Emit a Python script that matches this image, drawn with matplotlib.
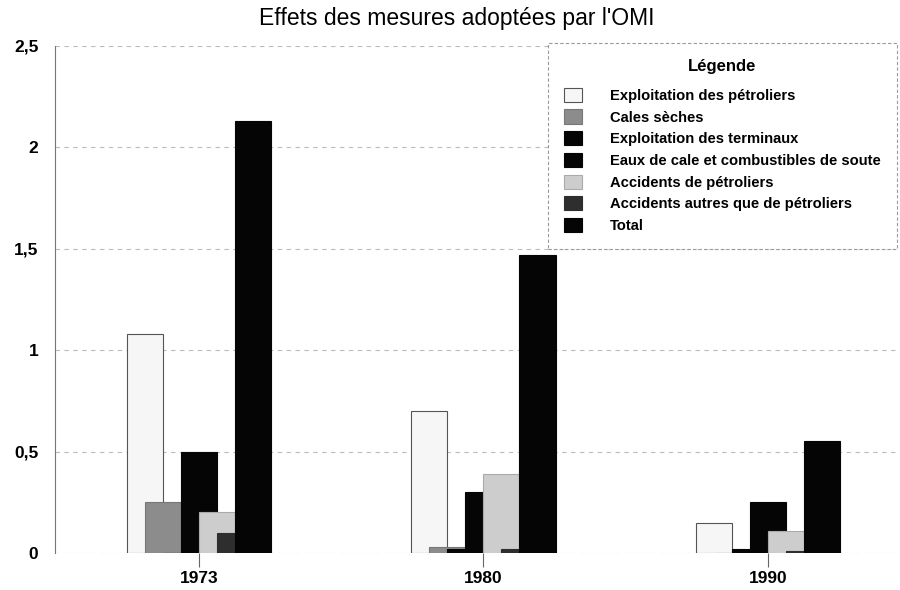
import matplotlib.pyplot as plt
import numpy as np

plt.rcParams['font.family'] = ['Liberation Sans', 'DejaVu Sans']

years = ["1973", "1980", "1990"]
series = [
    "Exploitation des pétroliers",
    "Cales sèches",
    "Exploitation des terminaux",
    "Eaux de cale et combustibles de soute",
    "Accidents de pétroliers",
    "Accidents autres que de pétroliers",
    "Total",
]
exploitation_petroliers = [1.08, 0.70, 0.15]
cales_seches = [0.25, 0.03, 0.00]
exploitation_terminaux = [0.00, 0.02, 0.02]
eaux_de_cale = [0.50, 0.30, 0.25]
accidents_petroliers = [0.20, 0.39, 0.11]
accidents_autres = [0.10, 0.02, 0.01]
total = [2.13, 1.47, 0.55]

values = [exploitation_petroliers, cales_seches, exploitation_terminaux,
          eaux_de_cale, accidents_petroliers, accidents_autres, total]
colors = ['#f6f6f6', '#8c8c8c', '#050505', '#050505', '#cdcdcd', '#2e2e2e', '#050505']
edges = ['#555555', '#777777', '#050505', '#050505', '#aaaaaa', '#2e2e2e', '#050505']

fig = plt.figure(figsize=(9, 5.9), dpi=100)
ax = fig.add_axes([55 / 900, 37 / 590, 843 / 900, 507 / 590])

x = np.arange(len(years))
step = 0.0633
width = 0.1266
for i, (name, vals) in enumerate(zip(series, values)):
    ax.bar(x + (i - 3) * step, vals, width, color=colors[i], edgecolor=edges[i],
           linewidth=0.8, label=name)

ax.set_xlim(-0.506, 2.457)
ax.set_ylim(0, 2.5)
ax.set_yticks([0, 0.5, 1, 1.5, 2, 2.5])
ax.set_yticklabels(['0', '0,5', '1', '1,5', '2', '2,5'], fontsize=12.5, fontweight='bold')
ax.set_xticks(x)
ax.set_xticklabels(years, fontsize=12.5, fontweight='bold')
ax.tick_params(axis='y', length=0, pad=12)
ax.tick_params(axis='x', length=10, color='#666666', pad=3)
ax.grid(axis='y', color='#bbbbbb', linestyle=(0, (4, 4)), linewidth=0.8)
ax.set_axisbelow(True)
for s in ['top', 'right', 'bottom']:
    ax.spines[s].set_visible(False)
ax.spines['left'].set_color('#777777')

fig.suptitle("Effets des mesures adoptées par l'OMI", x=0.508, y=0.988, fontsize=16.5)

leg = ax.legend(loc='upper left', bbox_to_anchor=(548 / 900, 1 - 43 / 590),
                bbox_transform=fig.transFigure, title='Légende', fancybox=False,
                prop={'size': 10.6, 'weight': 'bold'}, title_fontproperties={'size': 12, 'weight': 'bold'},
                handlelength=1.22, handleheight=1.1, handletextpad=1.9, labelspacing=0.45,
                borderpad=1.1, borderaxespad=0, framealpha=1)
leg._legend_box.sep += 5
leg.get_frame().set_edgecolor('#999999')
leg.get_frame().set_linestyle((0, (3, 2)))
leg.get_frame().set_linewidth(0.8)

fig.savefig('out.png', dpi=100)
